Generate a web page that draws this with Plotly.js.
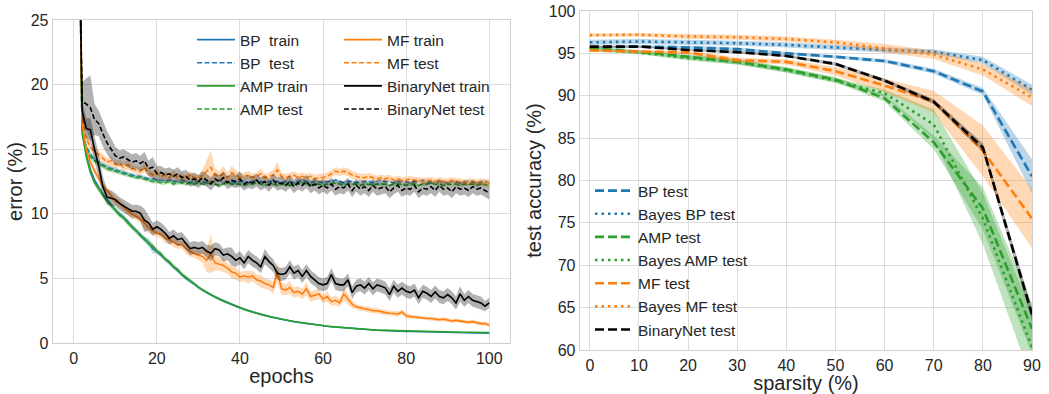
<!DOCTYPE html>
<html><head><meta charset="utf-8">
<script src="https://cdn.plot.ly/plotly-3.0.1.min.js"></script>
<style>html,body{margin:0;padding:0;background:#fff}#chart{width:1049px;height:394px}</style>
</head><body><div id="chart"></div>
<script>
// ---------- Left panel: error vs epochs ----------
const epochs = [1,2,3,4,5,6,7,8,9,10,11,12,13,14,15,16,17,18,19,20,21,22,23,24,25,26,27,28,29,30,31,32,33,34,35,36,37,38,39,40,41,42,43,44,45,46,47,48,49,50,51,52,53,54,55,56,57,58,59,60,61,62,63,64,65,66,67,68,69,70,71,72,73,74,75,76,77,78,79,80,81,82,83,84,85,86,87,88,89,90,91,92,93,94,95,96,97,98,99,100];

const bpTrain = [40,16.6,14.6,13.4,12.6,12.0,11.5,11.1,10.7,10.3,
 10.0,9.7,9.4,9.0,8.7,8.4,8.0,7.8,7.3,7.1,
 6.8,6.5,6.2,5.9,5.6,5.3,5.0,4.8,4.55,4.3,
 4.1,3.9,3.72,3.55,3.4,3.25,3.1,2.97,2.85,2.72,
 2.6,2.5,2.4,2.3,2.21,2.13,2.05,1.97,1.9,1.83,
 1.77,1.71,1.65,1.6,1.55,1.5,1.45,1.41,1.37,1.33,
 1.29,1.26,1.23,1.2,1.17,1.14,1.12,1.1,1.07,1.05,
 1.03,1.01,0.99,0.97,0.96,0.94,0.93,0.92,0.91,0.9,
 0.89,0.88,0.87,0.86,0.85,0.84,0.83,0.82,0.81,0.8,
 0.8,0.79,0.79,0.78,0.78,0.77,0.77,0.76,0.76,0.75];
const bpTrainStd = [0.5,0.3,0.25,0.2,0.2,0.2,0.2,0.2,0.2,0.2,
 0.2,0.2,0.2,0.2,0.2,0.2,0.2,0.3,0.35,0.2,
 0.2,0.15,0.15,0.15,0.15,0.15,0.15,0.15,0.12,0.12,
 0.1,0.1,0.1,0.1,0.1,0.1,0.1,0.1,0.08,0.08,
 0.08,0.08,0.08,0.08,0.08,0.07,0.07,0.07,0.07,0.07,
 0.06,0.06,0.06,0.06,0.06,0.06,0.06,0.06,0.06,0.06,
 0.05,0.05,0.05,0.05,0.05,0.05,0.05,0.05,0.05,0.05,
 0.05,0.05,0.05,0.05,0.05,0.05,0.05,0.05,0.05,0.05,
 0.04,0.04,0.04,0.04,0.04,0.04,0.04,0.04,0.04,0.04,
 0.04,0.04,0.04,0.04,0.04,0.04,0.04,0.04,0.04,0.04];

const bpTest = [40,16.4,15.2,14.6,14.2,14.0,13.8,13.6,13.5,13.4,
 13.3,13.2,13.1,13.0,12.9,12.9,12.8,12.7,12.7,12.6,
 12.6,12.5,12.6,12.5,12.5,12.6,12.5,12.4,12.5,12.5,
 12.5,12.4,12.5,12.5,12.6,12.4,12.5,12.5,12.4,12.5,
 12.5,12.4,12.5,12.6,12.5,12.4,12.5,12.5,12.5,12.4,
 12.5,12.5,12.4,12.5,12.6,12.5,12.4,12.5,12.5,12.4,
 12.5,12.5,12.6,12.5,12.4,12.5,12.5,12.4,12.5,12.5,
 12.5,12.4,12.5,12.6,12.5,12.5,12.4,12.5,12.5,12.5,
 12.4,12.5,12.5,12.6,12.5,12.4,12.5,12.5,12.5,12.4,
 12.5,12.5,12.4,12.5,12.5,12.5,12.4,12.5,12.5,12.4];
const bpTestStd = [0.5,0.3,0.25,0.2,0.2,0.2,0.2,0.2,0.2,0.2,
 0.2,0.2,0.15,0.15,0.15,0.15,0.15,0.15,0.15,0.15,
 0.15,0.15,0.15,0.15,0.15,0.15,0.15,0.15,0.15,0.15,
 0.12,0.12,0.12,0.12,0.12,0.12,0.12,0.12,0.12,0.12,
 0.12,0.12,0.12,0.12,0.12,0.12,0.12,0.12,0.12,0.12,
 0.12,0.12,0.12,0.12,0.12,0.12,0.12,0.12,0.12,0.12,
 0.12,0.12,0.12,0.12,0.12,0.12,0.12,0.12,0.12,0.12,
 0.12,0.12,0.12,0.15,0.12,0.12,0.12,0.12,0.12,0.12,
 0.12,0.12,0.12,0.12,0.12,0.12,0.12,0.12,0.12,0.12,
 0.12,0.12,0.12,0.12,0.12,0.12,0.12,0.12,0.12,0.12];

const ampTrain = [40,16.3,14.4,13.2,12.4,11.9,11.4,11.0,10.6,10.3,
 9.9,9.7,9.3,9.0,8.7,8.3,8.1,7.7,7.5,7.1,
 6.9,6.5,6.3,5.9,5.7,5.3,5.1,4.8,4.6,4.3,
 4.1,3.92,3.73,3.56,3.4,3.26,3.11,2.98,2.85,2.73,
 2.61,2.5,2.4,2.31,2.22,2.13,2.05,1.98,1.9,1.84,
 1.78,1.72,1.66,1.61,1.56,1.51,1.46,1.42,1.38,1.34,
 1.3,1.27,1.24,1.21,1.18,1.15,1.13,1.1,1.08,1.06,
 1.04,1.02,1.0,0.99,0.97,0.96,0.95,0.94,0.93,0.92,
 0.91,0.9,0.89,0.89,0.88,0.87,0.87,0.86,0.86,0.85,
 0.85,0.84,0.84,0.83,0.83,0.83,0.82,0.82,0.82,0.81];
const ampTrainStd = [0.5,0.3,0.25,0.2,0.2,0.25,0.2,0.2,0.2,0.2,
 0.2,0.2,0.2,0.2,0.2,0.2,0.2,0.2,0.2,0.2,
 0.2,0.15,0.15,0.2,0.15,0.2,0.15,0.15,0.12,0.12,
 0.1,0.1,0.1,0.1,0.1,0.1,0.1,0.1,0.08,0.08,
 0.08,0.08,0.08,0.08,0.08,0.07,0.07,0.07,0.07,0.07,
 0.06,0.06,0.06,0.06,0.06,0.06,0.06,0.06,0.06,0.06,
 0.05,0.05,0.05,0.05,0.05,0.05,0.05,0.05,0.05,0.05,
 0.05,0.05,0.05,0.05,0.05,0.05,0.05,0.05,0.05,0.05,
 0.04,0.04,0.04,0.04,0.04,0.04,0.04,0.04,0.04,0.04,
 0.04,0.04,0.04,0.04,0.04,0.04,0.04,0.04,0.04,0.04];

const ampTest = [40,16.2,15.0,14.4,14.1,13.9,13.7,13.5,13.4,13.3,
 13.2,13.1,13.0,12.9,12.8,12.8,12.7,12.6,12.5,12.5,
 12.4,12.4,12.5,12.3,12.4,12.4,12.3,12.4,12.3,12.4,
 12.3,12.3,12.4,12.3,12.2,12.3,12.4,12.3,12.3,12.3,
 12.2,12.3,12.3,12.4,12.3,12.2,12.3,12.3,12.2,12.3,
 12.3,12.2,12.3,12.3,12.4,12.3,12.2,12.3,12.3,12.2,
 12.3,12.3,12.4,12.3,12.2,12.3,12.3,12.3,12.2,12.3,
 12.3,12.2,12.3,12.3,12.3,12.2,12.3,12.3,12.3,12.2,
 12.3,12.3,12.2,12.3,12.3,12.4,12.3,12.3,12.2,12.3,
 12.3,12.3,12.2,12.3,12.3,12.3,12.2,12.3,12.3,12.2];
const ampTestStd = [0.5,0.3,0.25,0.2,0.2,0.2,0.2,0.2,0.2,0.2,
 0.2,0.2,0.15,0.15,0.15,0.15,0.15,0.15,0.15,0.15,
 0.15,0.15,0.15,0.15,0.15,0.15,0.15,0.15,0.15,0.15,
 0.12,0.12,0.12,0.12,0.12,0.12,0.12,0.12,0.12,0.12,
 0.12,0.12,0.12,0.12,0.12,0.12,0.12,0.12,0.12,0.12,
 0.12,0.12,0.12,0.12,0.12,0.12,0.12,0.12,0.12,0.12,
 0.12,0.12,0.12,0.12,0.12,0.12,0.12,0.12,0.12,0.12,
 0.12,0.12,0.12,0.12,0.12,0.12,0.12,0.12,0.12,0.12,
 0.12,0.12,0.12,0.12,0.12,0.12,0.12,0.12,0.12,0.12,
 0.12,0.12,0.12,0.12,0.12,0.12,0.12,0.12,0.12,0.12];

const mfTrain = [40,17.0,15.0,14.0,13.3,12.7,12.2,11.8,11.4,11.0,
 10.8,10.5,10.2,10.0,9.8,9.6,9.3,8.9,8.7,8.5,
 8.4,8.1,8.0,7.8,7.6,7.6,7.3,7.1,6.9,6.8,
 6.7,6.4,6.9,6.2,6.1,6.0,5.8,5.5,5.4,5.1,
 5.2,5.1,5.2,4.9,4.8,4.6,4.5,4.3,5.5,4.2,
 4.1,4.3,3.9,4.0,3.8,4.2,3.6,3.7,3.8,3.4,
 3.6,3.2,3.3,3.1,3.8,3.4,3.0,2.8,2.7,2.65,
 2.6,2.5,2.5,2.4,2.35,2.3,2.3,2.25,2.4,2.1,
 2.05,2.0,2.0,1.95,1.9,1.9,1.85,1.8,1.85,1.75,
 1.7,1.75,1.7,1.65,1.6,1.65,1.55,1.5,1.5,1.4];
const mfTrainStd = [0.5,0.4,0.3,0.3,0.3,0.3,0.3,0.3,0.3,0.3,
 0.3,0.3,0.3,0.4,0.3,0.3,0.5,0.4,0.3,0.3,
 0.3,0.4,0.3,0.4,0.3,0.3,0.4,0.4,0.3,0.4,
 0.5,0.9,1.5,0.6,0.5,0.5,0.4,0.5,0.5,0.4,
 0.4,0.5,0.4,0.4,0.5,0.4,0.4,0.5,0.8,0.5,
 0.4,0.5,0.4,0.4,0.4,0.5,0.4,0.4,0.4,0.3,
 0.4,0.3,0.4,0.3,0.5,0.4,0.3,0.2,0.2,0.2,
 0.2,0.2,0.2,0.2,0.2,0.2,0.2,0.2,0.2,0.2,
 0.15,0.15,0.15,0.15,0.15,0.15,0.15,0.15,0.15,0.15,
 0.15,0.15,0.15,0.15,0.15,0.15,0.15,0.15,0.15,0.15];

const mfTest = [40,17.5,15.8,15.2,14.8,14.6,14.3,14.0,14.1,13.8,
 13.9,13.6,13.8,13.5,13.4,13.3,13.6,13.2,13.0,13.2,
 12.9,13.0,12.8,13.1,12.8,12.9,12.7,13.0,12.8,12.7,
 13.0,13.3,13.6,13.0,12.9,13.1,12.8,13.2,13.0,12.8,
 12.9,13.0,12.8,12.9,13.1,12.8,12.9,13.0,13.4,12.9,
 12.8,12.9,13.0,12.8,12.9,12.8,12.9,12.7,12.8,12.8,
 12.9,13.1,13.3,13.2,13.3,13.2,13.0,12.9,12.8,12.8,
 12.9,12.8,12.7,12.8,12.7,12.8,12.6,12.7,12.6,12.6,
 12.7,12.6,12.6,12.5,12.6,12.6,12.5,12.6,12.5,12.5,
 12.6,12.5,12.5,12.4,12.5,12.5,12.4,12.5,12.4,12.4];
const mfTestStd = [0.5,0.4,0.3,0.3,0.3,0.3,0.3,0.3,0.4,0.3,
 0.3,0.3,0.4,0.3,0.3,0.3,0.4,0.3,0.3,0.3,
 0.3,0.3,0.3,0.3,0.3,0.3,0.3,0.3,0.3,0.3,
 0.4,0.9,1.3,0.5,0.4,0.6,0.4,0.5,0.4,0.3,
 0.3,0.3,0.3,0.3,0.4,0.3,0.3,0.4,0.6,0.3,
 0.3,0.3,0.3,0.3,0.3,0.3,0.3,0.3,0.3,0.3,
 0.3,0.3,0.3,0.3,0.3,0.3,0.3,0.3,0.3,0.3,
 0.25,0.25,0.25,0.25,0.25,0.25,0.25,0.25,0.25,0.25,
 0.25,0.25,0.25,0.25,0.25,0.25,0.25,0.25,0.25,0.25,
 0.25,0.25,0.25,0.25,0.25,0.25,0.25,0.25,0.3,0.3];

const bnTrain = [40,18.0,16.6,16.5,15.0,13.7,12.1,11.3,11.2,11.1,
 10.8,10.6,10.4,10.2,10.2,10.05,9.5,9.3,8.8,9.0,
 8.8,8.5,8.1,8.3,8.0,8.1,7.7,7.3,7.4,7.3,
 7.4,7.1,6.95,7.3,7.2,6.8,6.9,6.7,6.4,6.6,
 6.2,6.7,6.4,6.2,5.9,6.7,6.3,6.0,5.4,5.3,
 5.4,5.9,5.4,5.6,5.15,5.6,5.15,4.9,4.6,4.5,
 4.6,5.3,4.6,4.5,4.5,4.9,3.9,4.4,4.5,4.25,
 4.6,4.2,4.5,4.4,4.25,3.75,4.4,4.0,4.25,4.0,
 3.9,4.1,3.5,4.0,3.85,3.6,3.95,3.6,3.5,3.75,
 3.5,3.1,3.8,3.3,3.6,3.3,3.2,3.1,2.85,3.1];
const bnTrainStd = [0.8,0.8,0.8,0.9,1.0,0.9,0.8,0.6,0.6,0.5,
 0.5,0.5,0.5,0.5,0.5,0.6,0.9,0.6,0.5,0.5,
 0.5,0.5,0.5,0.5,0.5,0.5,0.5,0.5,0.5,0.5,
 0.5,0.5,0.6,0.5,0.5,0.5,0.5,0.7,0.5,0.5,
 0.5,0.5,0.5,0.5,0.5,0.6,0.5,0.5,0.5,0.5,
 0.5,0.5,0.5,0.5,0.5,0.5,0.5,0.5,0.5,0.5,
 0.5,0.5,0.5,0.5,0.5,0.5,0.5,0.5,0.5,0.5,
 0.5,0.5,0.5,0.5,0.5,0.5,0.5,0.5,0.5,0.5,
 0.5,0.5,0.5,0.5,0.5,0.5,0.5,0.5,0.5,0.5,
 0.5,0.5,0.6,0.5,0.5,0.5,0.5,0.5,0.4,0.4];

const bnTest = [40,18.7,18.5,18.2,17.3,17.0,16.2,15.5,15.0,14.5,
 14.3,14.4,14.2,14.0,14.1,13.9,14.1,13.5,13.6,13.1,
 13.2,13.0,13.1,12.9,13.1,12.8,12.9,12.6,12.7,12.5,
 12.8,12.6,12.3,12.7,12.5,12.8,12.4,12.6,12.5,12.7,
 12.3,12.5,12.4,12.6,12.3,12.5,12.2,12.6,12.3,12.4,
 12.2,12.5,12.1,12.4,12.2,12.5,12.1,12.3,12.0,12.2,
 12.0,12.3,11.9,12.1,12.0,12.3,11.8,12.2,11.9,12.1,
 11.8,12.2,11.9,12.0,12.1,11.7,12.0,12.2,11.8,12.0,
 11.9,12.2,11.7,12.0,11.9,12.1,11.8,12.2,11.9,12.0,
 11.7,12.1,11.9,12.0,11.8,12.1,11.9,12.0,11.8,11.6];
const bnTestStd = [1.5,1.5,2.0,2.5,1.2,1.0,1.0,0.9,0.8,0.7,
 0.6,0.6,0.6,0.6,0.6,0.6,0.7,0.6,0.8,0.6,
 0.5,0.5,0.5,0.5,0.5,0.5,0.5,0.5,0.5,0.5,
 0.5,0.5,0.5,0.5,0.5,0.5,0.5,0.5,0.5,0.6,
 0.5,0.5,0.5,0.5,0.5,0.5,0.5,0.5,0.5,0.5,
 0.5,0.5,0.5,0.5,0.5,0.5,0.5,0.5,0.5,0.5,
 0.5,0.5,0.5,0.5,0.5,0.5,0.5,0.5,0.5,0.5,
 0.5,0.5,0.5,0.5,0.5,0.5,0.5,0.5,0.5,0.5,
 0.5,0.5,0.5,0.5,0.5,0.5,0.5,0.5,0.5,0.5,
 0.5,0.5,0.5,0.5,0.5,0.5,0.5,0.5,0.5,0.5];

// ---------- Right panel: test accuracy vs sparsity ----------
const sparsity = [0,10,20,30,40,50,60,70,80,90];
const spBpTest = [95.7,95.8,95.7,95.5,95.0,94.6,94.1,92.9,90.5,80.5];
const spBpTestStd = [0.15,0.15,0.2,0.2,0.2,0.2,0.25,0.3,0.4,2.0];
const spBayesBpTest = [96.3,96.4,96.3,96.2,96.0,95.7,95.4,95.2,94.2,90.7];
const spBayesBpTestStd = [0.3,0.3,0.3,0.3,0.3,0.3,0.3,0.3,0.4,0.6];
const spAmpTest = [95.6,95.2,94.6,94.0,93.1,91.9,89.7,84.5,76.7,62.5];
const spAmpTestStd = [0.2,0.2,0.3,0.3,0.3,0.3,0.4,0.8,2.5,3.0];
const spBayesAmpTest = [95.5,95.1,94.45,94.0,93.0,91.8,90.3,86.6,75.5,60.3];
const spBayesAmpTestStd = [0.2,0.2,0.3,0.3,0.3,0.3,0.4,1.8,3.0,4.0];
const spMfTest = [95.35,95.2,95.1,94.2,94.0,92.9,91.2,89.3,83.5,75.5];
const spMfTestStd = [0.15,0.15,0.2,0.3,0.3,0.5,0.8,1.3,3.0,3.5];
const spBayesMfTest = [97.15,97.2,97.0,96.9,96.7,96.3,95.6,94.85,93.1,89.8];
const spBayesMfTestStd = [0.2,0.2,0.3,0.3,0.3,0.3,0.5,0.5,0.7,1.0];
const spBnTest = [95.8,95.8,95.4,95.15,94.7,93.75,91.8,89.3,83.9,64.2];
const spBnTestStd = [0.1,0.1,0.1,0.15,0.15,0.2,0.2,0.3,0.5,0.8];

// ---------- styling ----------
const BLUE = '#1f77b4', ORANGE = '#ff7f0e', GREEN = '#2ca02c', BLACK = '#000000';
const FILL = {};
FILL[BLUE] = 'rgba(31,119,180,0.3)';
FILL[ORANGE] = 'rgba(255,127,14,0.3)';
FILL[GREEN] = 'rgba(44,160,44,0.3)';
FILL[BLACK] = 'rgba(0,0,0,0.3)';
const FONT = 'Liberation Sans, Arial, Helvetica, sans-serif';
const TXT = '#262626';

const traces = [];
function band(x, m, s, color, xa, ya) {
  const up = m.map((v, i) => v + s[i]);
  const lo = m.map((v, i) => v - s[i]);
  traces.push({
    x: x.concat(x.slice().reverse()),
    y: up.concat(lo.slice().reverse()),
    xaxis: xa, yaxis: ya, type: 'scatter', mode: 'lines',
    fill: 'toself', fillcolor: FILL[color], line: {width: 0, color: FILL[color]},
    showlegend: false, hoverinfo: 'skip'
  });
}
function line(x, m, name, color, dash, width, xa, ya, leg) {
  traces.push({
    x: x, y: m, name: name, xaxis: xa, yaxis: ya, type: 'scatter', mode: 'lines',
    line: {color: color, width: width, dash: dash},
    legend: leg, showlegend: true
  });
}
const LD = '5px,2.5px';
const series = [
  [bpTrain, bpTrainStd, 'BP  train', BLUE, 'solid', 'legend'],
  [bpTest, bpTestStd, 'BP  test', BLUE, LD, 'legend'],
  [ampTrain, ampTrainStd, 'AMP train', GREEN, 'solid', 'legend'],
  [ampTest, ampTestStd, 'AMP test', GREEN, LD, 'legend'],
  [mfTrain, mfTrainStd, 'MF train', ORANGE, 'solid', 'legend2'],
  [mfTest, mfTestStd, 'MF test', ORANGE, LD, 'legend2'],
  [bnTrain, bnTrainStd, 'BinaryNet train', BLACK, 'solid', 'legend2'],
  [bnTest, bnTestStd, 'BinaryNet test', BLACK, LD, 'legend2']
];
series.forEach(s => { band(epochs, s[0], s[1], s[3], 'x', 'y'); line(epochs, s[0], s[2], s[3], s[4], 1.6, 'x', 'y', s[5]); });

const RD = '9px,4px', RO = '2.5px,4px';
const series2 = [
  [spBpTest, spBpTestStd, 'BP test', BLUE, RD],
  [spBayesBpTest, spBayesBpTestStd, 'Bayes BP test', BLUE, RO],
  [spAmpTest, spAmpTestStd, 'AMP test', GREEN, RD],
  [spBayesAmpTest, spBayesAmpTestStd, 'Bayes AMP test', GREEN, RO],
  [spMfTest, spMfTestStd, 'MF test', ORANGE, RD],
  [spBayesMfTest, spBayesMfTestStd, 'Bayes MF test', ORANGE, RO],
  [spBnTest, spBnTestStd, 'BinaryNet test', BLACK, RD]
];
series2.forEach(s => { band(sparsity, s[0], s[1], s[3], 'x2', 'y2'); line(sparsity, s[0], s[2], s[3], s[4], 2.6, 'x2', 'y2', 'legend3'); });

const W = 1049, H = 394, ML = 53, MR = 17, MT = 11, MB = 44;
const PW = W - ML - MR, PH = H - MT - MB;
const px = v => (v - ML) / PW;
const py = v => (H - MB - v) / PH;

function axis(extra) {
  return Object.assign({
    showgrid: true, gridcolor: '#dcdcdc', gridwidth: 1,
    zeroline: false, showline: true, mirror: true, linecolor: '#cfcfcf', linewidth: 1.3,
    ticks: '', tickfont: {family: FONT, size: 16, color: TXT},
    fixedrange: true
  }, extra);
}
const legFont = {family: FONT, size: 15.5, color: TXT};
const legBase = {xanchor: 'left', yanchor: 'top', bgcolor: 'rgba(0,0,0,0)', borderwidth: 0, font: legFont, itemwidth: 38};
const layout = {
  width: W, height: H,
  margin: {l: ML, r: MR, t: MT, b: MB},
  paper_bgcolor: '#ffffff', plot_bgcolor: '#ffffff',
  font: {family: FONT, color: TXT},
  xaxis: axis({domain: [px(53), px(510)], range: [-5, 105], tickvals: [0,20,40,60,80,100], anchor: 'y',
    title: {text: 'epochs', font: {family: FONT, size: 20, color: TXT}, standoff: 3}}),
  yaxis: axis({domain: [py(343), py(20)], range: [0, 25], tickvals: [0,5,10,15,20,25], anchor: 'x',
    title: {text: 'error (%)', font: {family: FONT, size: 20, color: TXT}, standoff: 2}}),
  xaxis2: axis({domain: [px(580), px(1032)], range: [-2, 90], tickvals: [0,10,20,30,40,50,60,70,80,90], anchor: 'y2',
    title: {text: 'sparsity (%)', font: {family: FONT, size: 20, color: TXT}, standoff: 6}}),
  yaxis2: axis({domain: [py(350), py(11)], range: [60, 100], tickvals: [60,65,70,75,80,85,90,95,100], anchor: 'x2',
    title: {text: 'test accuracy (%)', font: {family: FONT, size: 20, color: TXT}, standoff: 1}}),
  legend: Object.assign({x: px(192), y: py(23)}, legBase),
  legend2: Object.assign({x: px(339), y: py(23)}, legBase),
  legend3: Object.assign({x: px(590), y: py(174)}, legBase),
  showlegend: true
};
Plotly.newPlot('chart', traces, layout, {staticPlot: true, displayModeBar: false});
</script></body></html>
